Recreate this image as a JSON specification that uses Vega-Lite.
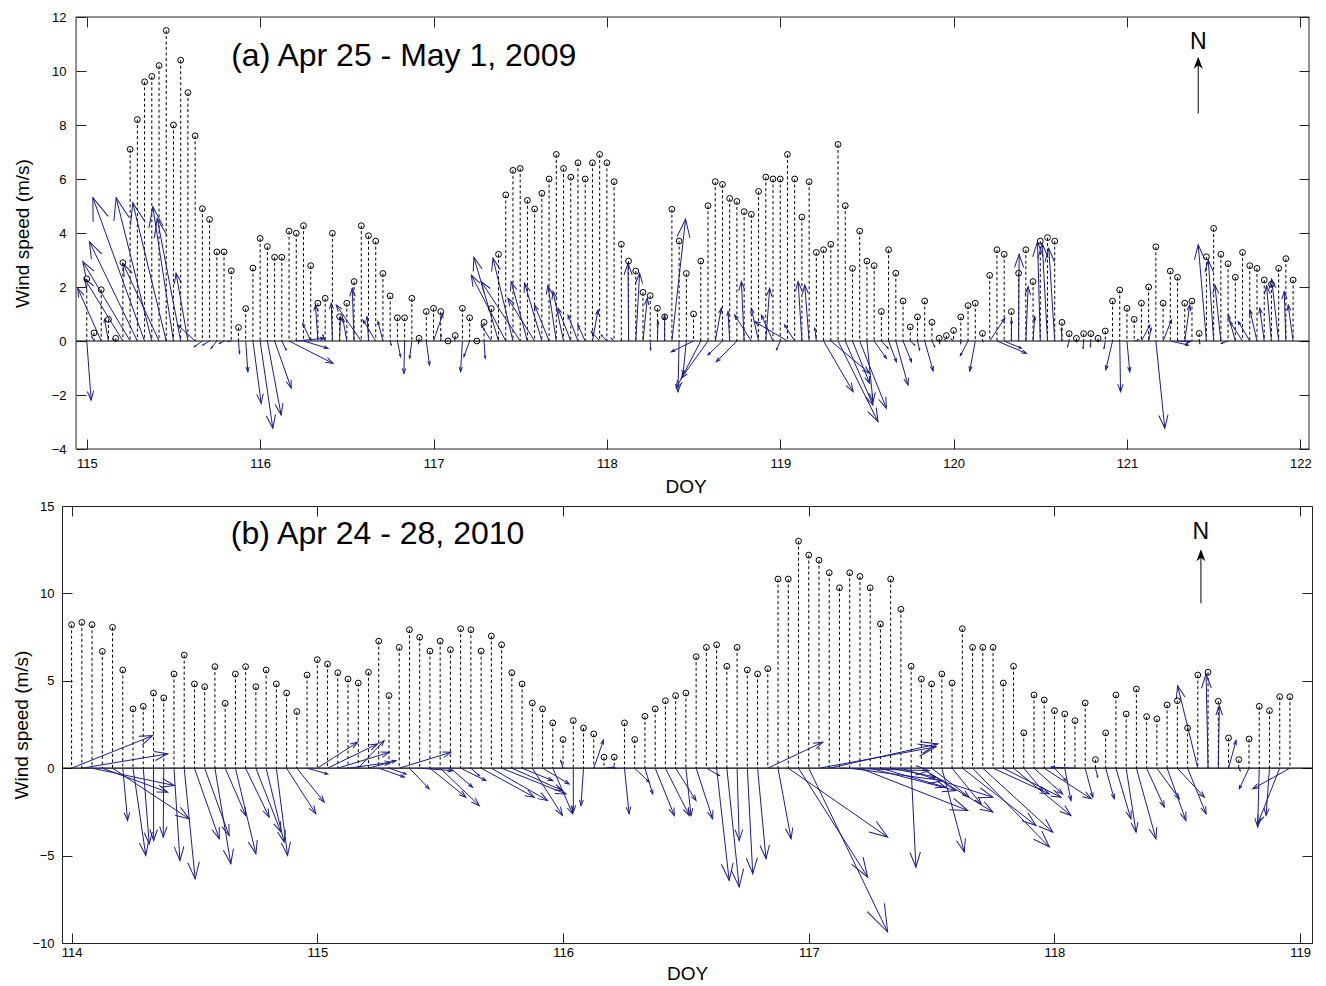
{
"$schema": "https://vega.github.io/schema/vega-lite/v6.json",
"background": "white",
"padding": {"left": 12, "top": 11, "right": 0, "bottom": 0},
"columns": 1,
"align": "none",
"spacing": 3,
"config": {
  "view": {"stroke": "#222222", "strokeWidth": 1},
  "font": "Liberation Sans",
  "axis": {"domain": false, "grid": false, "tickColor": "#222222", "tickSize": -10, "labelColor": "#000000", "labelFontSize": 13, "labelFont": "Liberation Sans", "titleFont": "Liberation Sans", "titleFontSize": 19, "titleFontWeight": "normal", "titleColor": "#000000", "labelFlush": false, "labelOverlap": false}
},
"datasets": {
"a": [
{"t":115,"s":2.3,"xe":115.025,"ye":-2.19},{"t":115.0417,"s":0.3,"xe":115.029,"ye":0.16},{"t":115.0833,"s":1.9,"xe":114.948,"ye":1.95},{"t":115.125,"s":0.8,"xe":115.102,"ye":0.81},{"t":115.1667,"s":0.1,"xe":115.15,"ye":0.07},{"t":115.2083,"s":2.9,"xe":114.986,"ye":2.32},{"t":115.25,"s":7.1,"xe":114.977,"ye":2.94},{"t":115.2917,"s":8.2,"xe":115.015,"ye":3.68},{"t":115.3333,"s":9.6,"xe":115.035,"ye":5.31},{"t":115.375,"s":9.8,"xe":115.169,"ye":5.31},{"t":115.4167,"s":10.2,"xe":115.208,"ye":2.88},{"t":115.4583,"s":11.5,"xe":115.265,"ye":5.12},{"t":115.5,"s":8.0,"xe":115.381,"ye":4.97},{"t":115.5417,"s":10.4,"xe":115.406,"ye":4.54},{"t":115.5833,"s":9.2,"xe":115.515,"ye":2.51},{"t":115.625,"s":7.6,"xe":115.525,"ye":0.59},{"t":115.6667,"s":4.9,"xe":115.621,"ye":-0.21},{"t":115.7083,"s":4.5,"xe":115.669,"ye":-0.15},{"t":115.75,"s":3.3,"xe":115.717,"ye":-0.27},{"t":115.7917,"s":3.3,"xe":115.765,"ye":-0.09},{"t":115.8333,"s":2.6,"xe":115.814,"ye":-0.02},{"t":115.875,"s":0.5,"xe":115.881,"ye":-0.46},{"t":115.9167,"s":1.2,"xe":115.929,"ye":-1.14},{"t":115.9583,"s":2.7,"xe":116.006,"ye":-2.31},
{"t":116,"s":3.8,"xe":116.073,"ye":-3.23},{"t":116.0417,"s":3.5,"xe":116.121,"ye":-2.74},{"t":116.0833,"s":3.1,"xe":116.179,"ye":-1.74},{"t":116.125,"s":3.1,"xe":116.15,"ye":-0.33},{"t":116.1667,"s":4.07,"xe":116.42,"ye":-0.83},{"t":116.2083,"s":3.99,"xe":116.371,"ye":0.1},{"t":116.25,"s":4.27,"xe":116.391,"ye":-0.27},{"t":116.2917,"s":2.79,"xe":116.246,"ye":0.65},{"t":116.3333,"s":1.4,"xe":116.319,"ye":1.33},{"t":116.375,"s":1.58,"xe":116.362,"ye":0.22},{"t":116.4167,"s":3.99,"xe":116.41,"ye":1.4},{"t":116.4583,"s":0.9,"xe":116.463,"ye":0.9},{"t":116.5,"s":1.4,"xe":116.477,"ye":0.83},{"t":116.5417,"s":2.2,"xe":116.531,"ye":1.95},{"t":116.5833,"s":4.27,"xe":116.439,"ye":1.33},{"t":116.625,"s":3.9,"xe":116.617,"ye":0.9},{"t":116.6667,"s":3.7,"xe":116.593,"ye":0.78},{"t":116.7083,"s":2.5,"xe":116.679,"ye":0.72},{"t":116.75,"s":1.67,"xe":116.756,"ye":-0.15},{"t":116.7917,"s":0.86,"xe":116.81,"ye":-0.58},{"t":116.8333,"s":0.86,"xe":116.829,"ye":-1.2},{"t":116.875,"s":1.58,"xe":116.862,"ye":-0.64},{"t":116.9167,"s":0.1,"xe":116.913,"ye":-0.09},{"t":116.9583,"s":1.09,"xe":116.977,"ye":-0.89},
{"t":117,"s":1.21,"xe":117.054,"ye":1.02},{"t":117.0417,"s":1.09,"xe":117.044,"ye":0.22},{"t":117.0833,"s":0.0,"xe":117.079,"ye":0.0},{"t":117.125,"s":0.2,"xe":117.121,"ye":0.1},{"t":117.1667,"s":1.21,"xe":117.156,"ye":-1.14},{"t":117.2083,"s":0.86,"xe":117.175,"ye":-0.58},{"t":117.25,"s":0.0,"xe":117.25,"ye":0.0},{"t":117.2917,"s":0.69,"xe":117.298,"ye":-0.64},{"t":117.3333,"s":1.2,"xe":117.275,"ye":0.59},{"t":117.375,"s":3.21,"xe":117.233,"ye":3.09},{"t":117.4167,"s":5.41,"xe":117.218,"ye":2.44},{"t":117.4583,"s":6.32,"xe":117.343,"ye":3.07},{"t":117.5,"s":6.39,"xe":117.275,"ye":2.2},{"t":117.5417,"s":5.21,"xe":117.448,"ye":2.2},{"t":117.5833,"s":4.89,"xe":117.429,"ye":1.58},{"t":117.625,"s":5.47,"xe":117.525,"ye":2.14},{"t":117.6667,"s":6.0,"xe":117.583,"ye":1.33},{"t":117.7083,"s":6.91,"xe":117.66,"ye":2.05},{"t":117.75,"s":6.39,"xe":117.689,"ye":1.83},{"t":117.7917,"s":6.07,"xe":117.718,"ye":1.21},{"t":117.8333,"s":6.6,"xe":117.776,"ye":0.96},{"t":117.875,"s":6.0,"xe":117.833,"ye":0.59},{"t":117.9167,"s":6.6,"xe":117.949,"ye":1.15},{"t":117.9583,"s":6.91,"xe":117.91,"ye":0.35},
{"t":118,"s":6.6,"xe":117.968,"ye":0.22},{"t":118.0417,"s":5.9,"xe":118.025,"ye":0.1},{"t":118.0833,"s":3.58,"xe":118.083,"ye":0.04},{"t":118.125,"s":2.96,"xe":118.122,"ye":2.88},{"t":118.1667,"s":2.59,"xe":118.189,"ye":2.51},{"t":118.2083,"s":1.8,"xe":118.233,"ye":1.58},{"t":118.25,"s":1.68,"xe":118.252,"ye":-0.33},{"t":118.2917,"s":1.21,"xe":118.295,"ye":0.72},{"t":118.3333,"s":0.89,"xe":118.333,"ye":0.96},{"t":118.375,"s":4.88,"xe":118.454,"ye":4.52},{"t":118.4167,"s":3.7,"xe":118.41,"ye":-1.88},{"t":118.4583,"s":2.5,"xe":118.439,"ye":-1.26},{"t":118.5,"s":1.0,"xe":118.372,"ye":-0.4},{"t":118.5417,"s":2.96,"xe":118.4,"ye":-1.75},{"t":118.5833,"s":5.01,"xe":118.429,"ye":-1.38},{"t":118.625,"s":5.9,"xe":118.66,"ye":1.21},{"t":118.6667,"s":5.8,"xe":118.583,"ye":-0.52},{"t":118.7083,"s":5.28,"xe":118.699,"ye":1.09},{"t":118.75,"s":5.17,"xe":118.631,"ye":-0.77},{"t":118.7917,"s":4.79,"xe":118.776,"ye":2.2},{"t":118.8333,"s":4.69,"xe":118.737,"ye":0.96},{"t":118.875,"s":5.54,"xe":118.833,"ye":1.21},{"t":118.9167,"s":6.07,"xe":118.939,"ye":1.95},{"t":118.9583,"s":6.0,"xe":118.891,"ye":0.96},
{"t":119,"s":6.0,"xe":118.978,"ye":-0.33},{"t":119.0417,"s":6.91,"xe":118.852,"ye":0.72},{"t":119.0833,"s":6.0,"xe":119.025,"ye":0.59},{"t":119.125,"s":4.59,"xe":119.103,"ye":2.2},{"t":119.1667,"s":5.9,"xe":119.141,"ye":2.07},{"t":119.2083,"s":3.28,"xe":119.199,"ye":0.47},{"t":119.25,"s":3.38,"xe":119.42,"ye":-1.88},{"t":119.2917,"s":3.58,"xe":119.516,"ye":-1.2},{"t":119.3333,"s":7.28,"xe":119.564,"ye":-2.99},{"t":119.375,"s":5.01,"xe":119.535,"ye":-2.37},{"t":119.4167,"s":2.69,"xe":119.516,"ye":-1.57},{"t":119.4583,"s":4.07,"xe":119.612,"ye":-2.49},{"t":119.5,"s":2.96,"xe":119.535,"ye":-2.25},{"t":119.5417,"s":2.79,"xe":119.612,"ye":-0.64},{"t":119.5833,"s":1.09,"xe":119.622,"ye":-0.27},{"t":119.625,"s":3.38,"xe":119.67,"ye":-0.77},{"t":119.6667,"s":2.51,"xe":119.737,"ye":-1.63},{"t":119.7083,"s":1.48,"xe":119.757,"ye":-0.77},{"t":119.75,"s":0.52,"xe":119.776,"ye":-0.15},{"t":119.7917,"s":0.89,"xe":119.804,"ye":-0.33},{"t":119.8333,"s":1.48,"xe":119.882,"ye":-1.11},{"t":119.875,"s":0.69,"xe":119.891,"ye":-0.21},{"t":119.9167,"s":0.1,"xe":119.92,"ye":-0.09},{"t":119.9583,"s":0.2,"xe":119.949,"ye":0.04},
{"t":120,"s":0.39,"xe":119.987,"ye":0.07},{"t":120.0417,"s":0.89,"xe":120.041,"ye":-0.09},{"t":120.0833,"s":1.31,"xe":120.039,"ye":-0.54},{"t":120.125,"s":1.4,"xe":120.093,"ye":-1.11},{"t":120.1667,"s":0.28,"xe":120.17,"ye":-0.02},{"t":120.2083,"s":2.43,"xe":120.295,"ye":0.84},{"t":120.25,"s":3.38,"xe":120.42,"ye":-0.46},{"t":120.2917,"s":3.21,"xe":120.391,"ye":-0.27},{"t":120.3333,"s":1.09,"xe":120.334,"ye":0.78},{"t":120.375,"s":2.51,"xe":120.378,"ye":3.21},{"t":120.4167,"s":3.38,"xe":120.43,"ye":2.01},{"t":120.4583,"s":2.2,"xe":120.468,"ye":0.9},{"t":120.5,"s":3.7,"xe":120.484,"ye":3.68},{"t":120.5417,"s":3.83,"xe":120.511,"ye":3.61},{"t":120.5833,"s":3.7,"xe":120.549,"ye":3.43},{"t":120.625,"s":0.69,"xe":120.622,"ye":0.47},{"t":120.6667,"s":0.27,"xe":120.657,"ye":-0.21},{"t":120.7083,"s":0.1,"xe":120.709,"ye":-0.02},{"t":120.75,"s":0.27,"xe":120.747,"ye":-0.27},{"t":120.7917,"s":0.27,"xe":120.789,"ye":-0.21},{"t":120.8333,"s":0.1,"xe":120.834,"ye":-0.02},{"t":120.875,"s":0.37,"xe":120.868,"ye":-0.27},{"t":120.9167,"s":1.48,"xe":120.878,"ye":-1.07},{"t":120.9583,"s":1.89,"xe":120.963,"ye":-1.88},
{"t":121,"s":1.21,"xe":121.016,"ye":-1.14},{"t":121.0417,"s":0.8,"xe":121.065,"ye":0.04},{"t":121.0833,"s":1.4,"xe":121.132,"ye":0.59},{"t":121.125,"s":2.0,"xe":121.139,"ye":0.47},{"t":121.1667,"s":3.49,"xe":121.218,"ye":-3.23},{"t":121.2083,"s":1.4,"xe":121.257,"ye":0.78},{"t":121.25,"s":2.59,"xe":121.353,"ye":-0.15},{"t":121.2917,"s":2.36,"xe":121.362,"ye":-0.02},{"t":121.3333,"s":1.4,"xe":121.362,"ye":1.33},{"t":121.375,"s":1.48,"xe":121.343,"ye":-0.09},{"t":121.4167,"s":0.28,"xe":121.42,"ye":-0.09},{"t":121.4583,"s":3.12,"xe":121.411,"ye":3.56},{"t":121.5,"s":4.17,"xe":121.469,"ye":3.0},{"t":121.5417,"s":3.21,"xe":121.507,"ye":2.07},{"t":121.5833,"s":2.86,"xe":121.545,"ye":-0.09},{"t":121.625,"s":2.36,"xe":121.584,"ye":0.96},{"t":121.6667,"s":3.28,"xe":121.593,"ye":0.72},{"t":121.7083,"s":2.79,"xe":121.642,"ye":0.72},{"t":121.75,"s":2.69,"xe":121.709,"ye":1.15},{"t":121.7917,"s":2.26,"xe":121.766,"ye":1.21},{"t":121.8333,"s":2.1,"xe":121.805,"ye":2.05},{"t":121.875,"s":2.69,"xe":121.834,"ye":2.3},{"t":121.9167,"s":3.05,"xe":121.907,"ye":1.83},{"t":121.9583,"s":2.26,"xe":121.93,"ye":1.33}
],
"b": [
{"t":114,"s":8.21,"xe":114.33,"ye":1.86},{"t":114.0417,"s":8.34,"xe":114.391,"ye":0.82},{"t":114.0833,"s":8.21,"xe":114.418,"ye":-0.99},{"t":114.125,"s":6.68,"xe":114.391,"ye":-1.37},{"t":114.1667,"s":8.06,"xe":114.479,"ye":-2.9},{"t":114.2083,"s":5.62,"xe":114.228,"ye":-2.99},{"t":114.25,"s":3.39,"xe":114.302,"ye":-4.99},{"t":114.2917,"s":3.54,"xe":114.316,"ye":-4.33},{"t":114.3333,"s":4.3,"xe":114.334,"ye":-4.13},{"t":114.375,"s":4.02,"xe":114.373,"ye":-3.94},{"t":114.4167,"s":5.39,"xe":114.441,"ye":-5.28},{"t":114.4583,"s":6.47,"xe":114.503,"ye":-6.33},{"t":114.5,"s":4.82,"xe":114.601,"ye":-4.04},{"t":114.5417,"s":4.66,"xe":114.641,"ye":-3.85},{"t":114.5833,"s":5.81,"xe":114.648,"ye":-5.47},{"t":114.625,"s":3.71,"xe":114.709,"ye":-2.71},{"t":114.6667,"s":5.39,"xe":114.75,"ye":-4.9},{"t":114.7083,"s":5.81,"xe":114.804,"ye":-2.8},{"t":114.75,"s":4.66,"xe":114.852,"ye":-3.66},{"t":114.7917,"s":5.62,"xe":114.865,"ye":-4.23},{"t":114.8333,"s":4.82,"xe":114.879,"ye":-4.99},{"t":114.875,"s":4.3,"xe":114.994,"ye":-2.61},{"t":114.9167,"s":3.24,"xe":115.028,"ye":-1.94},{"t":114.9583,"s":5.33,"xe":115.042,"ye":-0.33},
{"t":115,"s":6.21,"xe":115.164,"ye":1.49},{"t":115.0417,"s":5.96,"xe":115.245,"ye":1.39},{"t":115.0833,"s":5.46,"xe":115.293,"ye":0.91},{"t":115.125,"s":5.1,"xe":115.3,"ye":0.34},{"t":115.1667,"s":4.87,"xe":115.272,"ye":1.58},{"t":115.2083,"s":5.49,"xe":115.32,"ye":0.43},{"t":115.25,"s":7.27,"xe":115.354,"ye":-0.51},{"t":115.2917,"s":4.15,"xe":115.361,"ye":-0.33},{"t":115.3333,"s":6.91,"xe":115.544,"ye":0.91},{"t":115.375,"s":7.92,"xe":115.455,"ye":-1.18},{"t":115.4167,"s":7.49,"xe":115.551,"ye":-0.14},{"t":115.4583,"s":6.7,"xe":115.605,"ye":-1.66},{"t":115.5,"s":7.27,"xe":115.659,"ye":-2.14},{"t":115.5417,"s":6.78,"xe":115.632,"ye":-1.09},{"t":115.5833,"s":7.98,"xe":115.686,"ye":-0.71},{"t":115.625,"s":7.92,"xe":115.659,"ye":-0.42},{"t":115.6667,"s":6.7,"xe":115.883,"ye":-1.66},{"t":115.7083,"s":7.56,"xe":115.937,"ye":-1.85},{"t":115.75,"s":7.06,"xe":116.012,"ye":-1.47},{"t":115.7917,"s":5.46,"xe":115.998,"ye":-1.28},{"t":115.8333,"s":4.82,"xe":115.958,"ye":-0.71},{"t":115.875,"s":3.73,"xe":115.998,"ye":-2.71},{"t":115.9167,"s":3.39,"xe":116.025,"ye":-0.9},{"t":115.9583,"s":2.59,"xe":116.039,"ye":-2.61},
{"t":116,"s":1.64,"xe":115.991,"ye":0.43},{"t":116.0417,"s":2.72,"xe":116.042,"ye":-2.51},{"t":116.0833,"s":2.3,"xe":116.073,"ye":-2.14},{"t":116.125,"s":1.96,"xe":116.165,"ye":1.62},{"t":116.1667,"s":0.63,"xe":116.208,"ye":0.06},{"t":116.2083,"s":0.63,"xe":116.215,"ye":-0.02},{"t":116.25,"s":2.59,"xe":116.269,"ye":-2.61},{"t":116.2917,"s":1.64,"xe":116.351,"ye":-0.8},{"t":116.3333,"s":2.97,"xe":116.365,"ye":-1.47},{"t":116.375,"s":3.39,"xe":116.453,"ye":-2.71},{"t":116.4167,"s":3.86,"xe":116.514,"ye":-2.71},{"t":116.4583,"s":4.15,"xe":116.541,"ye":-1.85},{"t":116.5,"s":4.3,"xe":116.521,"ye":-2.71},{"t":116.5417,"s":6.38,"xe":116.609,"ye":-2.9},{"t":116.5833,"s":6.91,"xe":116.636,"ye":-0.42},{"t":116.625,"s":7.06,"xe":116.676,"ye":-6.42},{"t":116.6667,"s":5.83,"xe":116.717,"ye":-6.8},{"t":116.7083,"s":6.91,"xe":116.717,"ye":-4.14},{"t":116.75,"s":5.62,"xe":116.772,"ye":-6.04},{"t":116.7917,"s":5.39,"xe":116.826,"ye":-5.18},{"t":116.8333,"s":5.69,"xe":117.057,"ye":1.49},{"t":116.875,"s":10.82,"xe":116.928,"ye":-4.04},{"t":116.9167,"s":10.82,"xe":117.321,"ye":-3.94},{"t":116.9583,"s":12.99,"xe":117.24,"ye":-6.23},
{"t":117,"s":12.19,"xe":117.321,"ye":-9.37},{"t":117.0417,"s":11.9,"xe":117.518,"ye":1.22},{"t":117.0833,"s":11.18,"xe":117.525,"ye":1.39},{"t":117.125,"s":10.32,"xe":117.49,"ye":-0.14},{"t":117.1667,"s":11.18,"xe":117.545,"ye":-0.71},{"t":117.2083,"s":10.97,"xe":117.647,"ye":-2.42},{"t":117.25,"s":10.32,"xe":117.599,"ye":-1.28},{"t":117.2917,"s":8.25,"xe":117.558,"ye":-1.09},{"t":117.3333,"s":10.82,"xe":117.518,"ye":-0.51},{"t":117.375,"s":9.09,"xe":117.749,"ye":-1.66},{"t":117.4167,"s":5.83,"xe":117.436,"ye":-5.66},{"t":117.4583,"s":5.1,"xe":117.749,"ye":-2.51},{"t":117.5,"s":4.82,"xe":117.653,"ye":-1.66},{"t":117.5417,"s":5.39,"xe":117.633,"ye":-4.8},{"t":117.5833,"s":4.87,"xe":117.701,"ye":-2.04},{"t":117.625,"s":7.98,"xe":117.925,"ye":-3.28},{"t":117.6667,"s":6.91,"xe":117.979,"ye":-4.51},{"t":117.7083,"s":6.91,"xe":117.993,"ye":-3.66},{"t":117.75,"s":6.91,"xe":117.979,"ye":-1.47},{"t":117.7917,"s":4.87,"xe":118.026,"ye":-1.66},{"t":117.8333,"s":5.83,"xe":118.067,"ye":-2.71},{"t":117.875,"s":2.02,"xe":117.952,"ye":-1.28},{"t":117.9167,"s":4.19,"xe":118.033,"ye":-1.47},{"t":117.9583,"s":3.9,"xe":118.149,"ye":-1.75},
{"t":118,"s":3.29,"xe":118.047,"ye":-0.71},{"t":118.0417,"s":3.1,"xe":118.067,"ye":-1.85},{"t":118.0833,"s":2.72,"xe":117.986,"ye":0.06},{"t":118.125,"s":3.73,"xe":118.156,"ye":-1.66},{"t":118.1667,"s":0.49,"xe":118.176,"ye":-0.51},{"t":118.2083,"s":2.02,"xe":118.243,"ye":-1.75},{"t":118.25,"s":4.19,"xe":118.311,"ye":-2.9},{"t":118.2917,"s":3.1,"xe":118.332,"ye":-3.66},{"t":118.3333,"s":4.53,"xe":118.413,"ye":-4.04},{"t":118.375,"s":2.95,"xe":118.447,"ye":-2.23},{"t":118.4167,"s":2.82,"xe":118.508,"ye":-1.75},{"t":118.4583,"s":3.62,"xe":118.535,"ye":-2.99},{"t":118.5,"s":3.86,"xe":118.61,"ye":-1.66},{"t":118.5417,"s":2.3,"xe":118.617,"ye":-2.61},{"t":118.5833,"s":5.33,"xe":118.501,"ye":4.72},{"t":118.625,"s":5.49,"xe":118.617,"ye":5.39},{"t":118.6667,"s":3.83,"xe":118.671,"ye":3.58},{"t":118.7083,"s":1.73,"xe":118.739,"ye":1.58},{"t":118.75,"s":0.49,"xe":118.756,"ye":-0.14},{"t":118.7917,"s":1.67,"xe":118.752,"ye":-1.18},{"t":118.8333,"s":3.54,"xe":118.827,"ye":-3.37},{"t":118.875,"s":3.29,"xe":118.861,"ye":-2.71},{"t":118.9167,"s":4.09,"xe":118.827,"ye":-3.18},{"t":118.9583,"s":4.09,"xe":118.807,"ye":-1.18}
]
},
"concat": [
{
  "width": 1247, "height": 432,
  "view": {"stroke": null},
  "data": {"name": "a"},
  "layer": [
    {"mark": {"type": "rule", "color": "#000000", "strokeWidth": 1, "strokeDash": [3, 2.5]},
     "encoding": {
       "x": {"field": "t", "type": "quantitative", "scale": {"domain": [114.857, 122.05], "nice": false, "zero": false}, "axis": null},
       "y": {"field": "s", "type": "quantitative", "scale": {"domain": [-4, 12], "nice": false, "zero": false}, "axis": null},
       "y2": {"datum": 0}
     }},
    {"data": {"values": [{}]},
     "mark": {"type": "rule", "color": "#000000", "strokeWidth": 1.2},
     "encoding": {
       "x": {"datum": 114.938, "type": "quantitative", "scale": {"domain": [114.857, 122.05], "nice": false, "zero": false}, "axis": null},
       "x2": {"datum": 122.05},
       "y": {"datum": 0, "type": "quantitative", "scale": {"domain": [-4, 12], "nice": false, "zero": false}, "axis": null}
     }},
    {"data": {"values": [{}]},
     "mark": {"type": "rule", "color": "#222222", "strokeWidth": 1},
     "encoding": {
       "x": {"datum": 114.938, "type": "quantitative", "scale": {"domain": [114.857, 122.05], "nice": false, "zero": false}, "axis": null},
       "x2": {"datum": 122.05},
       "y": {"datum": 12, "type": "quantitative", "scale": {"domain": [-4, 12], "nice": false, "zero": false}, "axis": null}
     }},
    {"data": {"values": [{}]},
     "mark": {"type": "rule", "color": "#222222", "strokeWidth": 1},
     "encoding": {
       "x": {"datum": 114.938, "type": "quantitative", "scale": {"domain": [114.857, 122.05], "nice": false, "zero": false}, "axis": null},
       "x2": {"datum": 122.05},
       "y": {"datum": -4, "type": "quantitative", "scale": {"domain": [-4, 12], "nice": false, "zero": false}, "axis": null}
     }},
    {"data": {"values": [{}]},
     "mark": {"type": "rule", "color": "#222222", "strokeWidth": 1},
     "encoding": {
       "x": {"datum": 114.938, "type": "quantitative", "scale": {"domain": [114.857, 122.05], "nice": false, "zero": false}, "axis": null},
       "y": {"datum": -4, "type": "quantitative", "scale": {"domain": [-4, 12], "nice": false, "zero": false}, "axis": null},
       "y2": {"datum": 12}
     }},
    {"data": {"values": [{}]},
     "mark": {"type": "rule", "color": "#222222", "strokeWidth": 1},
     "encoding": {
       "x": {"datum": 122.05, "type": "quantitative", "scale": {"domain": [114.857, 122.05], "nice": false, "zero": false}, "axis": null},
       "y": {"datum": -4, "type": "quantitative", "scale": {"domain": [-4, 12], "nice": false, "zero": false}, "axis": null},
       "y2": {"datum": 12}
     }},
    {"mark": {"type": "rule", "color": "#1c1c88", "strokeWidth": 1},
     "encoding": {
       "x": {"field": "xe", "type": "quantitative", "scale": {"domain": [114.857, 122.05], "nice": false, "zero": false}, "axis": null},
       "x2": {"field": "t"},
       "y": {"field": "ye", "type": "quantitative", "scale": {"domain": [-4, 12], "nice": false, "zero": false}, "axis": null},
       "y2": {"datum": 0}
     }},
    {"transform": [
       {"calculate": "atan2((datum.xe - datum.t) * 173.4, datum.ye * 27) * 180 / PI", "as": "ang"},
       {"calculate": "0.09 * (pow((datum.xe - datum.t) * 173.4, 2) + pow(datum.ye * 27, 2)) + 4", "as": "sz"}
     ],
     "mark": {"type": "point", "shape": "M-0.35,1L0,0L0.35,1", "filled": false, "color": "#1c1c88", "strokeWidth": 1, "opacity": 1},
     "encoding": {
       "x": {"field": "xe", "type": "quantitative", "scale": {"domain": [114.857, 122.05], "nice": false, "zero": false}, "axis": {"orient": "top", "values": [115,116,117,118,119,120,121,122], "labels": false, "title": null}},
       "y": {"field": "ye", "type": "quantitative", "scale": {"domain": [-4, 12], "nice": false, "zero": false}, "axis": {"orient": "right", "values": [-4,-2,0,2,4,6,8,10,12], "labels": false, "title": null}},
       "angle": {"field": "ang", "type": "quantitative", "scale": null},
       "size": {"field": "sz", "type": "quantitative", "scale": null}
     }},
    {"mark": {"type": "point", "shape": "circle", "filled": false, "color": "#000000", "strokeWidth": 1, "size": 34, "opacity": 1},
     "encoding": {
       "x": {"field": "t", "type": "quantitative", "scale": {"domain": [114.857, 122.05], "nice": false, "zero": false}, "axis": {"orient": "bottom", "values": [115,116,117,118,119,120,121,122], "format": "d", "title": "DOY", "labelPadding": 18, "titlePadding": 7}},
       "y": {"field": "s", "type": "quantitative", "scale": {"domain": [-4, 12], "nice": false, "zero": false}, "axis": {"orient": "left", "offset": -14, "values": [-4,-2,0,2,4,6,8,10,12], "format": "d", "title": "Wind speed (m/s)", "labelPadding": 20, "titlePadding": 19}}
     }},
    {"data": {"values": [{}]},
     "mark": {"type": "text", "text": "(a) Apr 25 - May 1, 2009", "fontSize": 32, "align": "left", "baseline": "middle", "color": "#000000", "font": "Liberation Sans"},
     "encoding": {
       "x": {"datum": 115.833, "type": "quantitative", "scale": {"domain": [114.857, 122.05], "nice": false, "zero": false}, "axis": null},
       "y": {"datum": 10.56, "type": "quantitative", "scale": {"domain": [-4, 12], "nice": false, "zero": false}, "axis": null}
     }},
    {"data": {"values": [{}]},
     "mark": {"type": "rule", "color": "#000000", "strokeWidth": 1},
     "encoding": {
       "x": {"datum": 121.411, "type": "quantitative", "scale": {"domain": [114.857, 122.05], "nice": false, "zero": false}, "axis": null},
       "y": {"datum": 8.43, "type": "quantitative", "scale": {"domain": [-4, 12], "nice": false, "zero": false}, "axis": null},
       "y2": {"datum": 10.4}
     }},
    {"data": {"values": [{}]},
     "mark": {"type": "point", "shape": "M0,0L-0.45,1.2L0,0.85L0.45,1.2Z", "filled": true, "color": "#000000", "size": 400, "opacity": 1},
     "encoding": {
       "x": {"datum": 121.411, "type": "quantitative", "scale": {"domain": [114.857, 122.05], "nice": false, "zero": false}, "axis": null},
       "y": {"datum": 10.53, "type": "quantitative", "scale": {"domain": [-4, 12], "nice": false, "zero": false}, "axis": null}
     }},
    {"data": {"values": [{}]},
     "mark": {"type": "text", "text": "N", "fontSize": 23, "align": "center", "baseline": "middle", "color": "#000000", "font": "Liberation Sans"},
     "encoding": {
       "x": {"datum": 121.411, "type": "quantitative", "scale": {"domain": [114.857, 122.05], "nice": false, "zero": false}, "axis": null},
       "y": {"datum": 11.09, "type": "quantitative", "scale": {"domain": [-4, 12], "nice": false, "zero": false}, "axis": null}
     }}
  ],
  "resolve": {"axis": {"x": "independent", "y": "independent"}}
},
{
  "width": 1250, "height": 437,
  "data": {"name": "b"},
  "layer": [
    {"mark": {"type": "rule", "color": "#000000", "strokeWidth": 1, "strokeDash": [3, 2.5]},
     "encoding": {
       "x": {"field": "t", "type": "quantitative", "scale": {"domain": [113.961, 119.048], "nice": false, "zero": false}, "axis": null},
       "y": {"field": "s", "type": "quantitative", "scale": {"domain": [-10, 15], "nice": false, "zero": false}, "axis": null},
       "y2": {"datum": 0}
     }},
    {"data": {"values": [{}]},
     "mark": {"type": "rule", "color": "#000000", "strokeWidth": 1.2},
     "encoding": {
       "x": {"datum": 113.961, "type": "quantitative", "scale": {"domain": [113.961, 119.048], "nice": false, "zero": false}, "axis": null},
       "x2": {"datum": 119.048},
       "y": {"datum": 0, "type": "quantitative", "scale": {"domain": [-10, 15], "nice": false, "zero": false}, "axis": null}
     }},
    {"mark": {"type": "rule", "color": "#1c1c88", "strokeWidth": 1},
     "encoding": {
       "x": {"field": "xe", "type": "quantitative", "scale": {"domain": [113.961, 119.048], "nice": false, "zero": false}, "axis": null},
       "x2": {"field": "t"},
       "y": {"field": "ye", "type": "quantitative", "scale": {"domain": [-10, 15], "nice": false, "zero": false}, "axis": null},
       "y2": {"datum": 0}
     }},
    {"transform": [
       {"calculate": "atan2((datum.xe - datum.t) * 245.7, datum.ye * 17.48) * 180 / PI", "as": "ang"},
       {"calculate": "0.09 * (pow((datum.xe - datum.t) * 245.7, 2) + pow(datum.ye * 17.48, 2)) + 4", "as": "sz"}
     ],
     "mark": {"type": "point", "shape": "M-0.35,1L0,0L0.35,1", "filled": false, "color": "#1c1c88", "strokeWidth": 1, "opacity": 1},
     "encoding": {
       "x": {"field": "xe", "type": "quantitative", "scale": {"domain": [113.961, 119.048], "nice": false, "zero": false}, "axis": {"orient": "top", "values": [114,115,116,117,118,119], "labels": false, "title": null}},
       "y": {"field": "ye", "type": "quantitative", "scale": {"domain": [-10, 15], "nice": false, "zero": false}, "axis": {"orient": "right", "values": [-10,-5,0,5,10,15], "labels": false, "title": null}},
       "angle": {"field": "ang", "type": "quantitative", "scale": null},
       "size": {"field": "sz", "type": "quantitative", "scale": null}
     }},
    {"mark": {"type": "point", "shape": "circle", "filled": false, "color": "#000000", "strokeWidth": 1, "size": 34, "opacity": 1},
     "encoding": {
       "x": {"field": "t", "type": "quantitative", "scale": {"domain": [113.961, 119.048], "nice": false, "zero": false}, "axis": {"orient": "bottom", "values": [114,115,116,117,118,119], "format": "d", "title": "DOY", "labelPadding": 13, "titlePadding": 5}},
       "y": {"field": "s", "type": "quantitative", "scale": {"domain": [-10, 15], "nice": false, "zero": false}, "axis": {"orient": "left", "values": [-10,-5,0,5,10,15], "format": "d", "title": "Wind speed (m/s)", "labelPadding": 18, "titlePadding": 0}}
     }},
    {"data": {"values": [{}]},
     "mark": {"type": "text", "text": "(b) Apr 24 - 28, 2010", "fontSize": 32, "align": "left", "baseline": "middle", "color": "#000000", "font": "Liberation Sans"},
     "encoding": {
       "x": {"datum": 114.648, "type": "quantitative", "scale": {"domain": [113.961, 119.048], "nice": false, "zero": false}, "axis": null},
       "y": {"datum": 13.39, "type": "quantitative", "scale": {"domain": [-10, 15], "nice": false, "zero": false}, "axis": null}
     }},
    {"data": {"values": [{}]},
     "mark": {"type": "rule", "color": "#000000", "strokeWidth": 1},
     "encoding": {
       "x": {"datum": 118.596, "type": "quantitative", "scale": {"domain": [113.961, 119.048], "nice": false, "zero": false}, "axis": null},
       "y": {"datum": 9.43, "type": "quantitative", "scale": {"domain": [-10, 15], "nice": false, "zero": false}, "axis": null},
       "y2": {"datum": 12.3}
     }},
    {"data": {"values": [{}]},
     "mark": {"type": "point", "shape": "M0,0L-0.45,1.2L0,0.85L0.45,1.2Z", "filled": true, "color": "#000000", "size": 400, "opacity": 1},
     "encoding": {
       "x": {"datum": 118.596, "type": "quantitative", "scale": {"domain": [113.961, 119.048], "nice": false, "zero": false}, "axis": null},
       "y": {"datum": 12.53, "type": "quantitative", "scale": {"domain": [-10, 15], "nice": false, "zero": false}, "axis": null}
     }},
    {"data": {"values": [{}]},
     "mark": {"type": "text", "text": "N", "fontSize": 23, "align": "center", "baseline": "middle", "color": "#000000", "font": "Liberation Sans"},
     "encoding": {
       "x": {"datum": 118.596, "type": "quantitative", "scale": {"domain": [113.961, 119.048], "nice": false, "zero": false}, "axis": null},
       "y": {"datum": 13.49, "type": "quantitative", "scale": {"domain": [-10, 15], "nice": false, "zero": false}, "axis": null}
     }}
  ],
  "resolve": {"axis": {"x": "independent", "y": "independent"}}
}
]
}
